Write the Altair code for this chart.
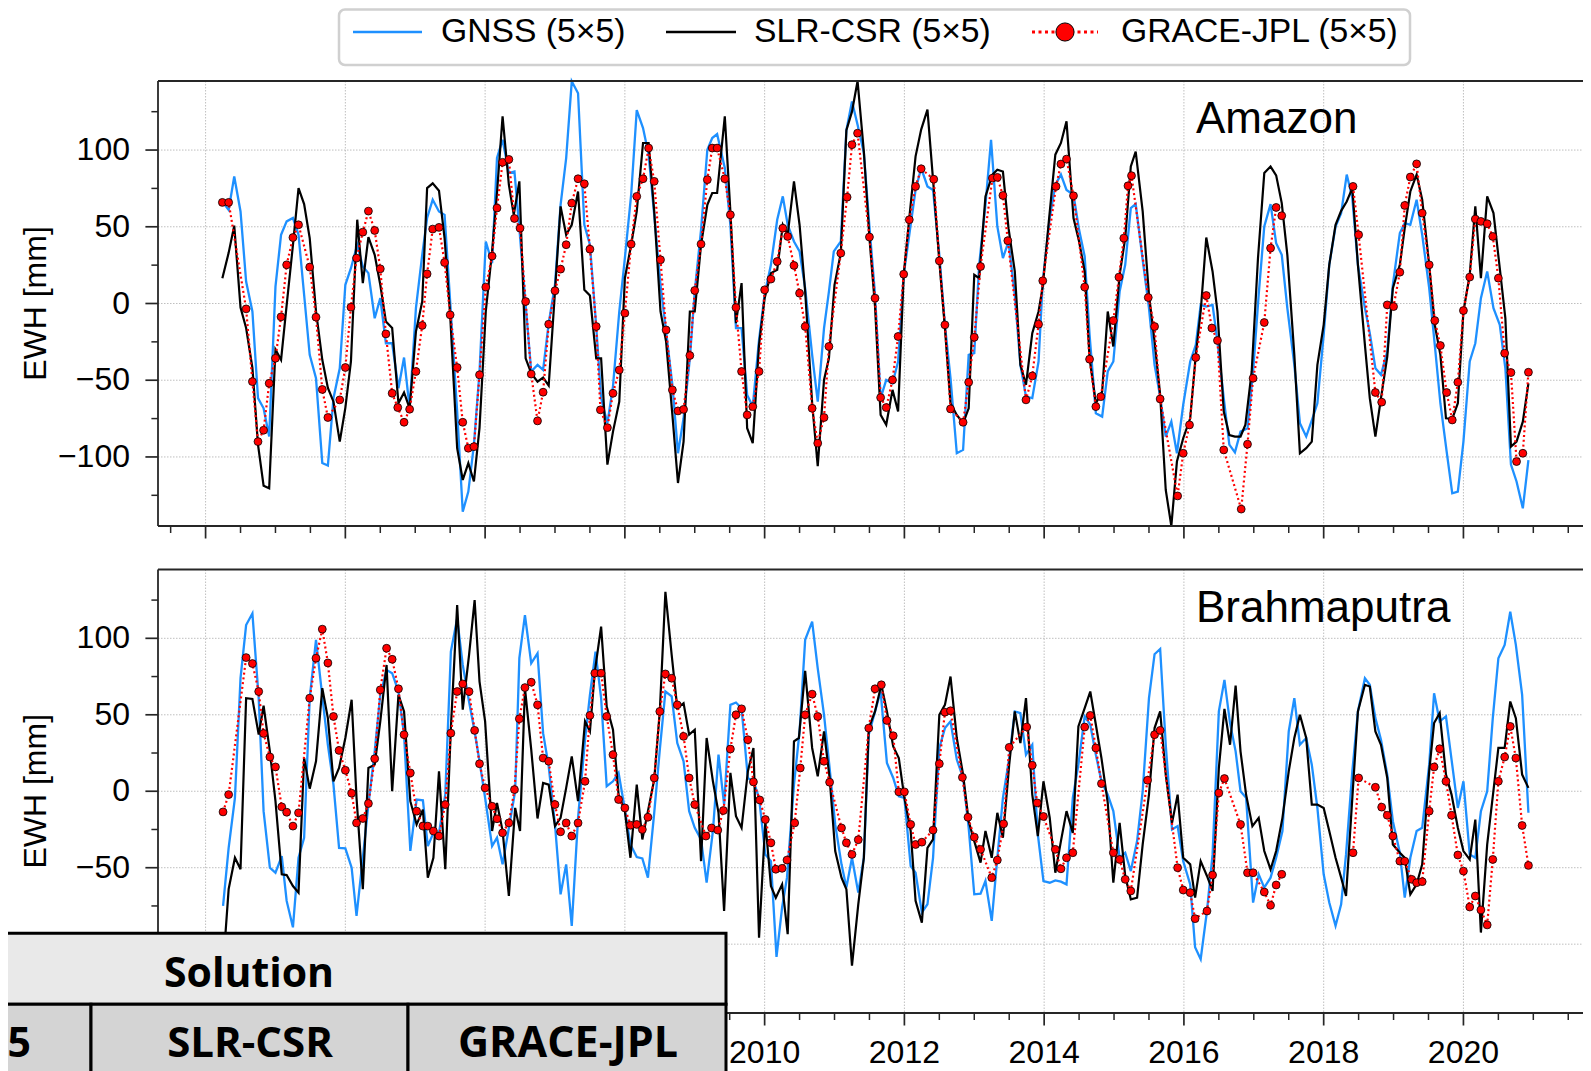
import altair as alt
import pandas as pd

# ---------------- data ----------------
AMZ_GNSS_T = [2002.24,2002.33,2002.41,2002.50,2002.58,2002.67,2002.75,2002.83,2002.91,2003.00,2003.08,2003.16,2003.25,2003.33,2003.41,2003.49,2003.58,2003.67,2003.75,2003.83,2003.92,2004.00,2004.08,2004.17,2004.25,2004.33,2004.42,2004.50,2004.58,2004.67,2004.76,2004.84,2004.92,2005.01,2005.10,2005.17,2005.25,2005.34,2005.42,2005.50,2005.60,2005.68,2005.76,2005.84,2005.92,2006.01,2006.10,2006.17,2006.25,2006.34,2006.42,2006.49,2006.58,2006.66,2006.75,2006.83,2006.91,2007.00,2007.08,2007.16,2007.24,2007.33,2007.42,2007.50,2007.59,2007.66,2007.75,2007.83,2007.92,2008.00,2008.09,2008.17,2008.26,2008.34,2008.42,2008.51,2008.59,2008.68,2008.76,2008.84,2008.93,2009.00,2009.09,2009.18,2009.25,2009.32,2009.43,2009.51,2009.59,2009.67,2009.75,2009.83,2009.92,2010.00,2010.09,2010.18,2010.26,2010.33,2010.42,2010.50,2010.58,2010.68,2010.76,2010.85,2010.92,2010.99,2011.09,2011.17,2011.25,2011.33,2011.42,2011.50,2011.58,2011.66,2011.74,2011.83,2011.91,2011.99,2012.07,2012.16,2012.24,2012.33,2012.41,2012.50,2012.58,2012.66,2012.75,2012.84,2012.92,2013.00,2013.07,2013.16,2013.24,2013.33,2013.41,2013.49,2013.58,2013.66,2013.74,2013.83,2013.92,2013.98,2014.08,2014.16,2014.24,2014.32,2014.42,2014.50,2014.58,2014.65,2014.74,2014.83,2014.91,2014.99,2015.08,2015.16,2015.24,2015.31,2015.41,2015.50,2015.58,2015.66,2015.74,2015.82,2015.90,2015.99,2016.09,2016.17,2016.24,2016.32,2016.41,2016.48,2016.57,2016.65,2016.73,2016.81,2016.91,2016.99,2017.07,2017.15,2017.24,2017.32,2017.40,2017.48,2017.58,2017.66,2017.75,2017.84,2017.91,2018.00,2018.08,2018.17,2018.25,2018.33,2018.41,2018.49,2018.59,2018.66,2018.74,2018.82,2018.91,2018.99,2019.09,2019.16,2019.24,2019.33,2019.41,2019.51,2019.59,2019.67,2019.76,2019.84,2019.92,2020.00,2020.09,2020.17,2020.25,2020.34,2020.43,2020.52,2020.60,2020.68,2020.76,2020.85,2020.93]
AMZ_GNSS_V = [66.5,61,82.8,60,14.3,-5.2,-61.7,-68.3,-86.7,11,44.8,53.5,55.7,44.8,5.7,-33.5,-48.7,-104,-105.6,-61.7,-42.2,12.2,23,38.3,24.1,19.8,-9.6,3.5,-25.9,-25.9,-55.2,-35.2,-68.3,-3,31.7,55.7,67.6,60,57.8,1.3,-70.4,-135.7,-122.6,-92,-44.3,40.4,26.3,94.8,106.7,85,86,49,-0.9,-44.3,-40,-43.3,-12.8,12.2,64.3,94.8,144.8,137,51.3,38.3,-15,-61.7,-78,-54,-5.2,29.6,70.9,126,114.3,97,57.8,12.2,-18.3,-53,-97.6,-74.8,-35.7,7.8,48,100.2,107.8,110.4,88.3,51.3,-16,-16,-59.6,-67.2,-23.7,5.7,25.2,54.6,69.8,51.3,40.4,34,10,-33.5,-64,-16,7.8,34,40.4,113,131.7,116.5,98,50,5.7,-61.7,-49.8,-52,-37.8,18.7,44.8,74,88.3,76.3,74,31.7,-13.9,-48.7,-97.6,-95.4,-33.5,-32.4,25.2,64.3,106.7,50.2,29.6,40.4,5.7,-40,-60.7,-61.7,-37.8,14.3,55.7,77.4,84,74,70.9,48,30.7,-20.4,-71.5,-73.7,-44.3,-37.8,7.8,25.2,62.2,64.8,28.5,-3,-40,-60.7,-86.7,-77,-97.6,-66,-37.8,-27,-0.9,-2,-0.9,-24.8,-61.7,-92,-97,-83.5,-81.3,-44.3,5.7,50.2,64.8,39.3,31.7,-3,-40,-78,-86.7,-74.8,-65,-20.4,25.2,50.2,58.9,84,68.7,25.2,-3,-19.3,-42.2,-46.5,-31.3,12.2,45.9,52.4,51.3,67.6,44.8,10,-27,-65,-96.5,-123.7,-122.6,-90,-37.8,-25.9,3.5,20.9,-3,-13.9,-42.2,-105,-116,-133.5,-102]

AMZ_SLR_T = [2002.24,2002.33,2002.41,2002.50,2002.58,2002.67,2002.75,2002.83,2002.91,2003.00,2003.08,2003.16,2003.25,2003.33,2003.41,2003.49,2003.58,2003.67,2003.75,2003.83,2003.92,2004.00,2004.08,2004.17,2004.25,2004.33,2004.42,2004.50,2004.58,2004.67,2004.76,2004.84,2004.92,2005.01,2005.10,2005.17,2005.25,2005.34,2005.42,2005.50,2005.60,2005.68,2005.76,2005.84,2005.92,2006.01,2006.10,2006.17,2006.25,2006.34,2006.41,2006.49,2006.58,2006.66,2006.75,2006.83,2006.91,2007.00,2007.08,2007.16,2007.24,2007.33,2007.42,2007.50,2007.59,2007.66,2007.75,2007.83,2007.92,2008.00,2008.09,2008.17,2008.26,2008.34,2008.42,2008.51,2008.59,2008.68,2008.76,2008.84,2008.93,2009.00,2009.09,2009.18,2009.25,2009.32,2009.43,2009.51,2009.59,2009.67,2009.75,2009.83,2009.92,2010.00,2010.09,2010.18,2010.26,2010.33,2010.42,2010.50,2010.58,2010.68,2010.76,2010.85,2010.92,2011.00,2011.09,2011.17,2011.25,2011.33,2011.42,2011.50,2011.58,2011.66,2011.74,2011.83,2011.91,2011.99,2012.07,2012.16,2012.24,2012.33,2012.41,2012.50,2012.58,2012.66,2012.75,2012.84,2012.92,2013.00,2013.07,2013.16,2013.26,2013.33,2013.41,2013.49,2013.58,2013.66,2013.74,2013.83,2013.92,2013.98,2014.07,2014.16,2014.24,2014.32,2014.42,2014.50,2014.58,2014.65,2014.74,2014.83,2014.91,2014.99,2015.08,2015.16,2015.24,2015.31,2015.41,2015.50,2015.58,2015.66,2015.74,2015.82,2015.90,2015.99,2016.09,2016.17,2016.24,2016.32,2016.41,2016.48,2016.57,2016.65,2016.73,2016.81,2016.88,2016.97,2017.06,2017.15,2017.24,2017.32,2017.40,2017.48,2017.58,2017.66,2017.75,2017.83,2017.91,2018.00,2018.08,2018.17,2018.25,2018.33,2018.41,2018.49,2018.59,2018.66,2018.74,2018.82,2018.91,2018.99,2019.09,2019.16,2019.24,2019.33,2019.41,2019.51,2019.59,2019.67,2019.75,2019.84,2019.92,2020.00,2020.09,2020.17,2020.25,2020.34,2020.43,2020.52,2020.60,2020.68,2020.76,2020.85,2020.93]
AMZ_SLR_V = [16.5,33,50.7,-2.6,-16,-42,-92,-118.7,-120.4,-30,-36.7,-1,38,75.2,64.8,42.6,-5,-36.7,-55,-64,-90,-68,-37.8,54.6,13.3,43.3,31.7,12.2,-11.7,-16,-65,-58,-68.3,-18.3,1.3,75.2,78.3,73.5,42.6,-7.4,-94.3,-115,-104,-116,-81,-5,34,72,122,77.4,57.8,79.6,-35.7,-45.4,-50.9,-48.3,-53.5,7.8,63.3,44.8,51.3,73,8.9,5.2,-35.7,-35.7,-105,-83.5,-64,16.5,38.3,60,104.6,104.6,60,-5.2,-24.8,-72.6,-117,-90,-5.2,-5.2,38.3,64.3,72,72,122,60,-12.8,13.3,-81.3,-91,-27,3.5,19.8,22,51.3,44.8,79.6,51.3,7.8,-65,-106,-49.8,-35.7,12.2,32.8,113,125,150,99,42.6,-2,-72.6,-79,-56.3,-70.4,18.7,55.7,95.9,113.3,126.3,80.7,27.4,-16,-65,-72.6,-78,-68.3,18.7,16.5,69.8,84,87.2,86,49.1,20.9,-40,-53,-19.3,-5.2,11.1,55,97,104.6,118.7,55.7,40.4,20.9,-35.7,-65,-57.4,-5.2,-28,18.7,42.6,89.3,99,60,5.7,-24.8,-59.6,-121.5,-150,-103,-87.8,-74.8,-33.5,-5.2,43,20.9,-5.2,-70.4,-85.7,-86.7,-86.7,-79,-44.3,29.6,85,89.3,83.5,65.4,31.7,-33.5,-97.6,-94.3,-90,-40,-13.9,25.2,51.3,60.4,66.5,75.2,25.2,-27,-61.7,-86.7,-61.7,-34.6,10,25.2,49.1,73,84,67.6,25.2,-13.9,-33.5,-74.8,-75.2,-65,-5.2,18.7,63.3,16.5,69.8,58.9,23,-9.6,-93.3,-90,-77,-52]

AMZ_GRACE_T = [2002.24,2002.33,2002.58,2002.67,2002.75,2002.83,2002.91,2003.00,2003.08,2003.16,2003.25,2003.33,2003.49,2003.58,2003.67,2003.75,2003.92,2004.00,2004.08,2004.16,2004.25,2004.33,2004.42,2004.50,2004.58,2004.67,2004.75,2004.84,2004.92,2005.01,2005.10,2005.17,2005.25,2005.34,2005.42,2005.50,2005.60,2005.68,2005.76,2005.84,2005.92,2006.01,2006.10,2006.17,2006.25,2006.34,2006.42,2006.50,2006.58,2006.66,2006.75,2006.83,2006.91,2007.00,2007.08,2007.16,2007.24,2007.33,2007.42,2007.50,2007.59,2007.65,2007.75,2007.83,2007.92,2008.00,2008.09,2008.17,2008.26,2008.34,2008.42,2008.51,2008.59,2008.68,2008.76,2008.84,2008.93,2009.00,2009.09,2009.18,2009.25,2009.32,2009.43,2009.51,2009.59,2009.67,2009.75,2009.83,2009.92,2010.00,2010.09,2010.18,2010.26,2010.33,2010.42,2010.50,2010.58,2010.68,2010.76,2010.85,2010.92,2011.09,2011.18,2011.25,2011.33,2011.50,2011.58,2011.66,2011.74,2011.83,2011.91,2011.99,2012.07,2012.16,2012.24,2012.42,2012.50,2012.58,2012.66,2012.84,2012.92,2013.00,2013.09,2013.26,2013.33,2013.41,2013.48,2013.74,2013.83,2013.92,2013.98,2014.17,2014.24,2014.32,2014.42,2014.58,2014.65,2014.74,2014.81,2014.99,2015.07,2015.14,2015.20,2015.25,2015.49,2015.58,2015.66,2015.91,2015.99,2016.08,2016.17,2016.32,2016.40,2016.48,2016.57,2016.82,2016.91,2016.99,2017.15,2017.24,2017.32,2017.40,2018.42,2018.50,2018.74,2018.83,2018.91,2019.00,2019.09,2019.16,2019.24,2019.33,2019.41,2019.51,2019.59,2019.67,2019.76,2019.84,2019.92,2020.00,2020.09,2020.17,2020.25,2020.34,2020.42,2020.50,2020.59,2020.68,2020.76,2020.85,2020.93]
AMZ_GRACE_V = [65.9,65.9,-3.5,-50.9,-90,-82.6,-52,-35.7,-8.7,25.2,43,51.3,23.7,-8.9,-56,-74.3,-62.8,-41.7,-2.4,29.6,46.5,60.2,47.6,22.6,-19.8,-58.5,-67.8,-77.4,-68.9,-44.3,-14.3,19.3,48.5,49.6,26.7,-7.4,-41.7,-77.4,-94.3,-93.3,-46.5,10.7,30.9,62.2,92,93.9,55.4,49.1,1.3,-46,-76.5,-57.8,-13.5,8.3,22.4,38.3,65.4,81.3,78,35.4,-15,-69.3,-80.9,-58.5,-43.3,-6.3,38.7,69.8,81.3,101.3,79.6,28.5,-17.2,-56.3,-70,-69,-33.9,8.5,38.7,80.7,101.3,101.3,81.3,57.8,-2.6,-44.3,-72.6,-67.2,-44.3,8.9,15.9,27.4,49.1,43.7,24.8,6.7,-15,-68.3,-91,-74.3,-28,32.8,69.3,103.5,111,43.3,3.5,-61.3,-67.8,-49.8,-21.5,19.1,54.6,76.3,87.8,81,27.8,-13.9,-68.7,-77.4,-51.3,-22,24.1,81.7,82.2,70.4,40.9,-62.8,-47.2,-13.5,14.8,76.3,90.9,94.1,70.2,10.7,-36.3,-67.2,-60.7,-11.1,17.2,42.6,76.7,83.3,3.9,-15,-62.2,-125.4,-97.6,-79.1,-35.2,5.2,-16,-24.1,-95.4,-134,-91.7,-48.7,-12.4,36.1,62.6,57.2,76.3,44.8,-58,-64.3,-0.9,-2,20.4,63.9,82.4,91,58.9,25.2,-11.1,-27.4,-58,-75.9,-51.3,-4.6,17.2,55,53.5,52,43.7,16.5,-32.4,-45,-103,-97.6,-44.8]

BRA_GNSS_T = [2002.25,2002.33,2002.42,2002.50,2002.58,2002.67,2002.76,2002.83,2002.92,2003.00,2003.09,2003.16,2003.25,2003.33,2003.41,2003.49,2003.58,2003.67,2003.75,2003.83,2003.91,2004.00,2004.09,2004.16,2004.25,2004.33,2004.42,2004.50,2004.59,2004.67,2004.76,2004.84,2004.93,2005.02,2005.11,2005.18,2005.26,2005.34,2005.43,2005.51,2005.60,2005.68,2005.77,2005.85,2005.92,2006.00,2006.10,2006.17,2006.25,2006.34,2006.43,2006.49,2006.57,2006.66,2006.75,2006.83,2006.91,2007.00,2007.08,2007.16,2007.24,2007.33,2007.43,2007.50,2007.58,2007.66,2007.74,2007.83,2007.91,2008.00,2008.08,2008.17,2008.25,2008.33,2008.42,2008.50,2008.58,2008.67,2008.75,2008.84,2008.92,2009.00,2009.09,2009.17,2009.26,2009.34,2009.42,2009.51,2009.59,2009.67,2009.76,2009.84,2009.92,2010.01,2010.09,2010.17,2010.25,2010.32,2010.42,2010.50,2010.58,2010.68,2010.76,2010.85,2010.93,2011.01,2011.10,2011.17,2011.25,2011.34,2011.42,2011.49,2011.58,2011.66,2011.75,2011.84,2011.92,2012.00,2012.09,2012.16,2012.25,2012.33,2012.41,2012.50,2012.58,2012.66,2012.75,2012.84,2012.92,2013.00,2013.09,2013.16,2013.25,2013.33,2013.41,2013.50,2013.58,2013.66,2013.74,2013.83,2013.91,2013.99,2014.08,2014.16,2014.24,2014.32,2014.41,2014.49,2014.58,2014.66,2014.74,2014.82,2014.91,2014.99,2015.08,2015.16,2015.24,2015.33,2015.41,2015.50,2015.58,2015.66,2015.74,2015.83,2015.91,2015.99,2016.09,2016.16,2016.24,2016.33,2016.41,2016.50,2016.58,2016.66,2016.74,2016.81,2016.89,2016.99,2017.07,2017.15,2017.24,2017.32,2017.41,2017.50,2017.58,2017.66,2017.75,2017.83,2017.91,2018.00,2018.08,2018.17,2018.25,2018.32,2018.41,2018.49,2018.59,2018.66,2018.74,2018.82,2018.91,2018.99,2019.09,2019.16,2019.24,2019.33,2019.41,2019.51,2019.58,2019.66,2019.75,2019.83,2019.92,2020.00,2020.09,2020.17,2020.25,2020.34,2020.42,2020.50,2020.59,2020.67,2020.75,2020.84,2020.93]
BRA_GNSS_V = [-75,-37,-4.3,74,108.7,116.3,60.9,-13,-50,-53.3,-42.4,-71.7,-89,-43.5,-30.4,60.9,99,62,30.4,4.3,-37,-37.4,-50,-81.5,-43.5,-8.7,26,63,79.3,77.2,65.2,37,-39,-5.4,-5.9,-35.9,-27.2,-27.2,-2.2,91.3,113,82.6,58.7,39.1,19.6,-4.3,-35.9,-30.4,-47.8,-24,0,87,115.2,83.7,90.2,38,16.3,-21.7,-67.4,-47.8,-88,-17.4,33.7,63,91.3,60.9,3.3,6.5,12,-12,-34.8,-43,-43.9,-56.5,-14.1,27.2,65.2,62,31.5,19.6,-13,-23.9,-31.5,-59.8,-26,23.9,-8.7,56.5,58,54.3,8.7,6.5,-4.3,-41.3,-45.7,-108.3,-76,-56.5,4.3,39.1,99,110.9,80.4,50,15.2,-21.7,-47.8,-63,-43.5,-66.3,-43.5,37,52.2,65.2,18.5,8.7,-3.3,-4.3,-48.9,-53.3,-79.3,-73.9,-43.5,28.3,41.3,45.7,20.7,8.7,-23.9,-67.4,-67,-58.7,-84.8,-43.5,-4.3,21.7,52.2,51.1,23.9,30.4,-28.3,-58.7,-59.8,-58.3,-59.1,-60.9,-4.3,17.4,48.9,43.5,23.9,6.5,-2.2,-13,-43.5,-40.2,-52.2,-32.6,0,60.9,89.6,93,30.4,-25,-22.8,-45.7,-60.9,-102,-109.8,-78.3,-41.3,52.2,72.8,44.6,26.1,0,-4.3,-72.8,-54.3,-63,-56.5,-43.5,-26,39.1,60.9,30.4,34.8,17.4,-10.9,-54.3,-72.8,-88,-73.9,-41.3,13,52.2,73.9,69.6,47.8,33.7,10.9,-19.6,-40.2,-69.6,-43.5,-26,-23.9,17.4,64.1,45.7,48.9,20.7,-10.9,6.5,-41.3,-43.5,-13,0,47.8,87,95.7,117.4,95.7,63,-14.1]

BRA_SLR_T = [2002.25,2002.33,2002.42,2002.50,2002.58,2002.67,2002.76,2002.83,2002.92,2003.00,2003.09,2003.16,2003.25,2003.33,2003.41,2003.49,2003.58,2003.67,2003.75,2003.83,2003.91,2004.00,2004.09,2004.16,2004.25,2004.33,2004.42,2004.50,2004.59,2004.67,2004.76,2004.84,2004.93,2005.02,2005.11,2005.18,2005.26,2005.34,2005.43,2005.51,2005.60,2005.68,2005.77,2005.85,2005.92,2006.00,2006.10,2006.17,2006.25,2006.34,2006.43,2006.50,2006.57,2006.66,2006.75,2006.83,2006.91,2007.00,2007.08,2007.16,2007.24,2007.33,2007.43,2007.50,2007.57,2007.66,2007.74,2007.83,2007.91,2008.00,2008.08,2008.17,2008.25,2008.33,2008.42,2008.50,2008.58,2008.67,2008.75,2008.84,2008.92,2009.00,2009.09,2009.17,2009.26,2009.34,2009.42,2009.51,2009.59,2009.67,2009.76,2009.84,2009.92,2010.01,2010.09,2010.16,2010.25,2010.33,2010.42,2010.49,2010.58,2010.68,2010.76,2010.85,2010.93,2011.01,2011.10,2011.17,2011.25,2011.34,2011.42,2011.49,2011.58,2011.67,2011.75,2011.84,2011.92,2012.00,2012.09,2012.16,2012.25,2012.33,2012.41,2012.50,2012.58,2012.66,2012.75,2012.84,2012.92,2013.00,2013.09,2013.16,2013.25,2013.33,2013.41,2013.50,2013.58,2013.66,2013.74,2013.83,2013.91,2013.99,2014.08,2014.16,2014.24,2014.32,2014.41,2014.49,2014.58,2014.66,2014.74,2014.82,2014.91,2014.99,2015.08,2015.16,2015.24,2015.33,2015.41,2015.50,2015.58,2015.66,2015.74,2015.83,2015.91,2015.99,2016.09,2016.16,2016.24,2016.33,2016.41,2016.50,2016.58,2016.66,2016.74,2016.81,2016.89,2016.98,2017.07,2017.15,2017.24,2017.32,2017.41,2017.50,2017.58,2017.66,2017.75,2017.83,2017.91,2018.00,2018.08,2018.17,2018.25,2018.32,2018.41,2018.49,2018.59,2018.66,2018.74,2018.82,2018.91,2018.99,2019.09,2019.16,2019.24,2019.33,2019.41,2019.51,2019.58,2019.66,2019.75,2019.83,2019.92,2020.00,2020.09,2020.17,2020.25,2020.34,2020.42,2020.50,2020.59,2020.67,2020.75,2020.84,2020.93]
BRA_SLR_V = [-115,-64,-43.5,-51,60.9,60.4,37,55.9,26,-6.5,-54.3,-54.8,-62,-66.3,21.7,1.7,19.6,67.4,47.8,6.5,15.2,34.8,59.8,-4.3,-64,15.2,17.4,45.7,82.6,0,63,52.2,-6.5,-21.7,-12,-56.5,-43.5,13,-51,41.3,121.7,53.3,89,125,71.7,45.7,-26,-7.6,-26,-68.5,-10.9,-26,67.4,27.2,-17.8,5.4,4.3,-22.8,-17.4,2.2,22.8,-6.5,45.7,39.1,78.3,107.6,55.4,40.2,-2.2,-13,-43.5,4.3,-31.5,-13,7.6,52.2,130.4,89.1,54.3,57.6,37,40.2,-45.7,34.8,6.5,-14.1,-78.3,12,-16.3,-23.9,13,28.3,-95.7,-19.6,-62,-69.6,-60.9,-93.5,32.6,34.8,78.7,28.3,9.8,39.1,8.7,-39.1,-56.5,-64.1,-114,-73.9,-43.5,41.3,52.2,69.6,52.2,29.3,21.7,-4.3,-26,-71.7,-85.9,-37,-31.5,50,56.5,75,34.8,10.9,-19.6,-32.6,-46.7,-26,-43.5,-14.1,-30.4,17.4,52.2,31.5,60.9,-2.2,-29.3,6.5,-17.4,-53.3,-32.6,-13,-27.2,42.4,54.3,65.2,43.5,21.7,-7.6,-59.8,-20.7,-55.4,-70.7,-69.6,-34.8,-2.2,41.3,52.2,10.9,-20.7,-2.2,-43.5,-47.8,-69.6,-45.7,-55.4,-65.2,15.2,53.9,30.4,69.1,26.1,-2.2,-22.8,-17.4,-39.1,-51.1,-39.1,-17.4,13,34.8,50,34.8,-8.7,-8.7,-10.9,-26,-43.5,-56.5,-68.5,-4.3,52.2,69.6,68.5,39.1,30.4,8.7,-34.8,-40.2,-43.5,-67.4,-60.9,-47.8,13,44.6,51.1,10.9,-2.2,-23.9,-39.1,-44.6,-18.5,-92.4,-34.8,-3.3,28.3,28.3,58.7,47.8,10.9,2.2]

BRA_GRACE_T = [2002.25,2002.33,2002.58,2002.67,2002.76,2002.83,2002.92,2003.00,2003.09,2003.16,2003.25,2003.33,2003.49,2003.58,2003.67,2003.75,2003.83,2003.91,2004.00,2004.09,2004.16,2004.25,2004.33,2004.42,2004.50,2004.59,2004.67,2004.76,2004.84,2004.93,2005.02,2005.11,2005.18,2005.26,2005.34,2005.43,2005.51,2005.60,2005.68,2005.77,2005.85,2005.92,2006.00,2006.10,2006.17,2006.25,2006.34,2006.42,2006.49,2006.57,2006.66,2006.75,2006.83,2006.91,2007.00,2007.08,2007.16,2007.24,2007.33,2007.43,2007.50,2007.57,2007.66,2007.74,2007.83,2007.91,2008.00,2008.08,2008.17,2008.25,2008.33,2008.42,2008.50,2008.58,2008.67,2008.75,2008.84,2008.92,2009.00,2009.16,2009.24,2009.33,2009.41,2009.51,2009.59,2009.67,2009.76,2009.84,2009.93,2010.01,2010.09,2010.16,2010.25,2010.32,2010.43,2010.51,2010.58,2010.68,2010.76,2010.85,2010.93,2011.10,2011.17,2011.25,2011.34,2011.49,2011.58,2011.67,2011.75,2011.84,2011.92,2012.00,2012.09,2012.16,2012.25,2012.41,2012.50,2012.58,2012.66,2012.83,2012.91,2013.00,2013.09,2013.25,2013.33,2013.42,2013.50,2013.75,2013.83,2013.90,2013.99,2014.16,2014.24,2014.32,2014.41,2014.58,2014.66,2014.74,2014.82,2014.99,2015.08,2015.16,2015.24,2015.48,2015.58,2015.66,2015.91,2015.99,2016.09,2016.16,2016.33,2016.41,2016.50,2016.58,2016.81,2016.91,2016.99,2017.15,2017.24,2017.32,2017.40,2018.42,2018.50,2018.74,2018.83,2018.91,2018.99,2019.09,2019.16,2019.26,2019.33,2019.41,2019.51,2019.58,2019.66,2019.75,2019.83,2019.92,2020.00,2020.09,2020.17,2020.25,2020.34,2020.42,2020.50,2020.59,2020.67,2020.75,2020.84,2020.93]
BRA_GRACE_V = [-13.5,-2.2,87.4,83.5,65.2,37.8,22.4,15.9,-10.2,-13.7,-22.8,-14.1,60.9,87,106,83.9,48.9,26.7,13.7,-1.3,-20.7,-17.8,-8,21.3,66.3,93.5,86.3,67,37,12,-13,-22.8,-22.8,-26,-29.3,-8.7,38,65.2,70.2,65.2,39.8,18,2.2,-9.8,-18,-27.2,-20.7,1.1,47.4,67.8,71.3,56.5,21.7,19.6,-8.7,-26.5,-20.7,-29.3,-20.7,6.5,49.6,77.2,77.2,48.9,23.9,-5.4,-10.9,-22.2,-21.7,-25,-17,8.7,52.2,76.7,73.9,56.5,35.9,8.7,-8.7,-29.3,-24,-25.4,-12.6,27.6,50,53.9,33.7,6.1,-5.7,-18.5,-33.7,-51,-50.4,-45,-20.7,15.2,50,63.5,48.9,19.6,5.9,-24,-33.7,-41.3,-31.7,41.3,67,69.6,46.3,36.3,-0.4,-0.4,-21.7,-34.8,-33.3,-25.4,18,51.7,52.6,9.1,-17,-30,-38,-56.5,-45,-21.3,28.7,42,17,-7.6,-16.5,-38,-50.7,-43.5,-40.2,42,49.6,28.3,5,-40.2,-44.6,-57.6,-65.2,7.2,37,39.8,-50,-64.6,-66.3,-83.3,-78.3,-54.8,-1.1,8.3,-21.7,-53.3,-53.3,-65.9,-74.6,-61.3,-54.3,-40.2,8.7,2.6,-10.4,-15.7,-29.3,-45.7,-45.7,-57.6,-59.8,-59.1,-13,15.9,27.8,6.5,-15.7,-41.7,-52.2,-75.7,-68.5,-77.6,-87.4,-44.6,6.5,22.4,42.4,21.7,-22.4,-48.5]

PANEL_NAMES = ["Amazon", "Brahmaputra"]
SERIES_NAMES = ["GNSS (5×5)", "SLR-CSR (5×5)", "GRACE-JPL (5×5)"]
YEAR_TICKS = [2002, 2004, 2006, 2008, 2010, 2012, 2014, 2016, 2018, 2020]
YEAR_LABELS = [2010, 2012, 2014, 2016, 2018, 2020]   # the earlier ones lie under the table
MINOR_YEARS = [2001.5, 2002.5, 2003, 2003.5, 2004.5, 2005, 2005.5, 2006.5, 2007, 2007.5,
               2008.5, 2009, 2009.5, 2010.5, 2011, 2011.5, 2012.5, 2013, 2013.5, 2014.5,
               2015, 2015.5, 2016.5, 2017, 2017.5, 2018.5, 2019, 2019.5, 2020.5, 2021, 2021.5]
Y_MAJOR = [-100, -50, 0, 50, 100]
Y_MINOR = [-125, -75, -25, 25, 75, 125]
Y_LABELS = ["\u2212100", "\u221250", "0", "50", "100"]
TABLE_HEADER = "Solution"
TABLE_CELLS = ["5×5", "SLR-CSR", "GRACE-JPL"]
GRACE_FO_START = 2018.0

# ---------------- layout / style ----------------
W, H = 1425, 932
X0, X1 = 2001.319, 2021.711
PANELS = [(0, 445), (488.5, 932)]
BLUE = "#1e90ff"
FRAME = "#262626"
GRID = "#b8b8b8"
FONT = "Liberation Sans"
TFONT = "Open Sans"

xs = alt.Scale(domain=[X0, X1], nice=False, zero=False)


def ysc(top, bot):
    return alt.Scale(domain=[-145, 145], range=[bot, top], clamp=True, nice=False, zero=False)


one = pd.DataFrame({"k": [0]})
layers = []

series = [
    (AMZ_GNSS_T, AMZ_GNSS_V, AMZ_SLR_T, AMZ_SLR_V, AMZ_GRACE_T, AMZ_GRACE_V),
    (BRA_GNSS_T, BRA_GNSS_V, BRA_SLR_T, BRA_SLR_V, BRA_GRACE_T, BRA_GRACE_V),
]


def X():
    return alt.X("t:Q", scale=xs, axis=None)


for pi, ((top, bot), data) in enumerate(zip(PANELS, series)):
    ys = ysc(top, bot)

    def Y(ys=ys):
        return alt.Y("v:Q", scale=ys, axis=None)

    years_df = pd.DataFrame({"t": YEAR_TICKS})
    ymaj_df = pd.DataFrame({"v": Y_MAJOR, "lab": Y_LABELS})
    ymin_df = pd.DataFrame({"v": Y_MINOR})
    xmin_df = pd.DataFrame({"t": MINOR_YEARS})

    # grid
    layers.append(alt.Chart(years_df).mark_rule(color=GRID, strokeWidth=0.9, strokeDash=[1.5, 1.5]).encode(
        x=X(), y=alt.value(top), y2=alt.value(bot)))
    layers.append(alt.Chart(ymaj_df).mark_rule(color=GRID, strokeWidth=0.9, strokeDash=[1.5, 1.5]).encode(
        y=Y(), x=alt.value(0), x2=alt.value(W)))

    gt, gv, st, sv, rt, rv = data
    gdf = pd.DataFrame({"t": gt, "v": gv})
    sdf = pd.DataFrame({"t": st, "v": sv})
    rdf = pd.DataFrame({"t": rt, "v": rv})
    rdf["seg"] = (rdf["t"] > GRACE_FO_START).astype(int)

    layers.append(alt.Chart(gdf).mark_line(color=BLUE, strokeWidth=2.3).encode(x=X(), y=Y()))
    layers.append(alt.Chart(sdf).mark_line(color="black", strokeWidth=2.2).encode(x=X(), y=Y()))
    layers.append(alt.Chart(rdf).mark_line(color="#ff0000", strokeWidth=2.2, strokeDash=[2, 2.8]).encode(
        x=X(), y=Y(), detail="seg:N"))
    layers.append(alt.Chart(rdf).mark_circle(color="#ff0000", stroke="black", strokeWidth=0.8, size=62, opacity=1).encode(
        x=X(), y=Y()))

    # frame
    layers.append(alt.Chart(one).mark_rule(color=FRAME, strokeWidth=1.8).encode(
        x=alt.value(0), y=alt.value(top), y2=alt.value(bot)))
    layers.append(alt.Chart(one).mark_rule(color=FRAME, strokeWidth=1.8).encode(
        x=alt.value(0), x2=alt.value(W), y=alt.value(top)))
    layers.append(alt.Chart(one).mark_rule(color=FRAME, strokeWidth=1.8).encode(
        x=alt.value(0), x2=alt.value(W), y=alt.value(bot)))

    # ticks
    layers.append(alt.Chart(years_df).mark_rule(color=FRAME, strokeWidth=1.7).encode(
        x=X(), y=alt.value(bot), y2=alt.value(bot + 12.5)))
    layers.append(alt.Chart(xmin_df).mark_rule(color=FRAME, strokeWidth=1.5).encode(
        x=X(), y=alt.value(bot), y2=alt.value(bot + 7)))
    layers.append(alt.Chart(ymaj_df).mark_rule(color=FRAME, strokeWidth=1.7).encode(
        y=Y(), x=alt.value(-12.6), x2=alt.value(0)))
    layers.append(alt.Chart(ymin_df).mark_rule(color=FRAME, strokeWidth=1.5).encode(
        y=Y(), x=alt.value(-6.6), x2=alt.value(0)))

    # y labels & title
    layers.append(alt.Chart(ymaj_df).mark_text(align="right", baseline="middle", fontSize=32, font=FONT,
                                               color="black").encode(y=Y(), x=alt.value(-28), text="lab:N"))
    layers.append(alt.Chart(one).mark_text(angle=270, align="center", baseline="middle", fontSize=32, font=FONT,
                                           color="black", text="EWH [mm]").encode(
        x=alt.value(-122), y=alt.value((top + bot) / 2)))
    # panel title
    layers.append(alt.Chart(one).mark_text(align="left", baseline="alphabetic", fontSize=44, font=FONT,
                                           color="black", text=PANEL_NAMES[pi]).encode(
        x=alt.value(1038), y=alt.value(top + 52)))

# x labels (bottom panel only)
xlab_df = pd.DataFrame({"t": YEAR_LABELS, "lab": [str(y) for y in YEAR_LABELS]})
layers.append(alt.Chart(xlab_df).mark_text(align="center", baseline="middle", fontSize=32, font=FONT,
                                           color="black").encode(x=X(), y=alt.value(972), text="lab:N"))

# legend
LY = -49
layers.append(alt.Chart(one).mark_rect(fill="white", stroke="#d0d0d0", strokeWidth=2.5, cornerRadius=6).encode(
    x=alt.value(181), x2=alt.value(1252), y=alt.value(-71.5), y2=alt.value(-16)))
layers.append(alt.Chart(one).mark_rule(color=BLUE, strokeWidth=2.5).encode(
    x=alt.value(195), x2=alt.value(264), y=alt.value(LY)))
layers.append(alt.Chart(one).mark_rule(color="black", strokeWidth=2.5).encode(
    x=alt.value(508), x2=alt.value(578), y=alt.value(LY)))
layers.append(alt.Chart(one).mark_rule(color="#ff0000", strokeWidth=3, strokeDash=[3, 3.5]).encode(
    x=alt.value(874), x2=alt.value(940), y=alt.value(LY)))
layers.append(alt.Chart(one).mark_circle(color="#ff0000", stroke="black", strokeWidth=1, size=330, opacity=1).encode(
    x=alt.value(907), y=alt.value(LY)))
for xpos, name in zip([283, 596, 963], SERIES_NAMES):
    layers.append(alt.Chart(one).mark_text(align="left", baseline="middle", fontSize=33.7, font=FONT,
                                           color="black", text=name).encode(x=alt.value(xpos), y=alt.value(LY)))

# table overlay
TT, TM, TB = 852.3, 923.3, 1000
layers.append(alt.Chart(one).mark_rect(fill="#e9e9e9", stroke="black", strokeWidth=3).encode(
    x=alt.value(-175), x2=alt.value(568), y=alt.value(TT), y2=alt.value(TM)))
for xa, xb in [(-175, -67), (-67, 250), (250, 568)]:
    layers.append(alt.Chart(one).mark_rect(fill="#d4d4d4", stroke="black", strokeWidth=3).encode(
        x=alt.value(xa), x2=alt.value(xb), y=alt.value(TM), y2=alt.value(TB)))
layers.append(alt.Chart(one).mark_text(align="center", baseline="alphabetic", fontSize=41, font=TFONT,
                                       fontWeight="bold", color="black", text=TABLE_HEADER).encode(
    x=alt.value(91), y=alt.value(905.5)))
for (xpos, al, fs), name in zip([(-127, "right", 41), (92, "center", 42), (410, "center", 43)], TABLE_CELLS):
    layers.append(alt.Chart(one).mark_text(align=al, baseline="alphabetic", fontSize=fs, font=TFONT,
                                           fontWeight="bold", color="black", text=name).encode(
        x=alt.value(xpos), y=alt.value(976)))

chart = alt.layer(*layers).resolve_scale(y="independent").properties(
    width=W, height=H,
    padding={"left": 150, "top": 73, "right": 0, "bottom": 58},
    autosize=alt.AutoSizeParams(type="none"),
).configure_view(stroke=None)

chart.save("out.html", embed_options={"renderer": "svg", "actions": False})
